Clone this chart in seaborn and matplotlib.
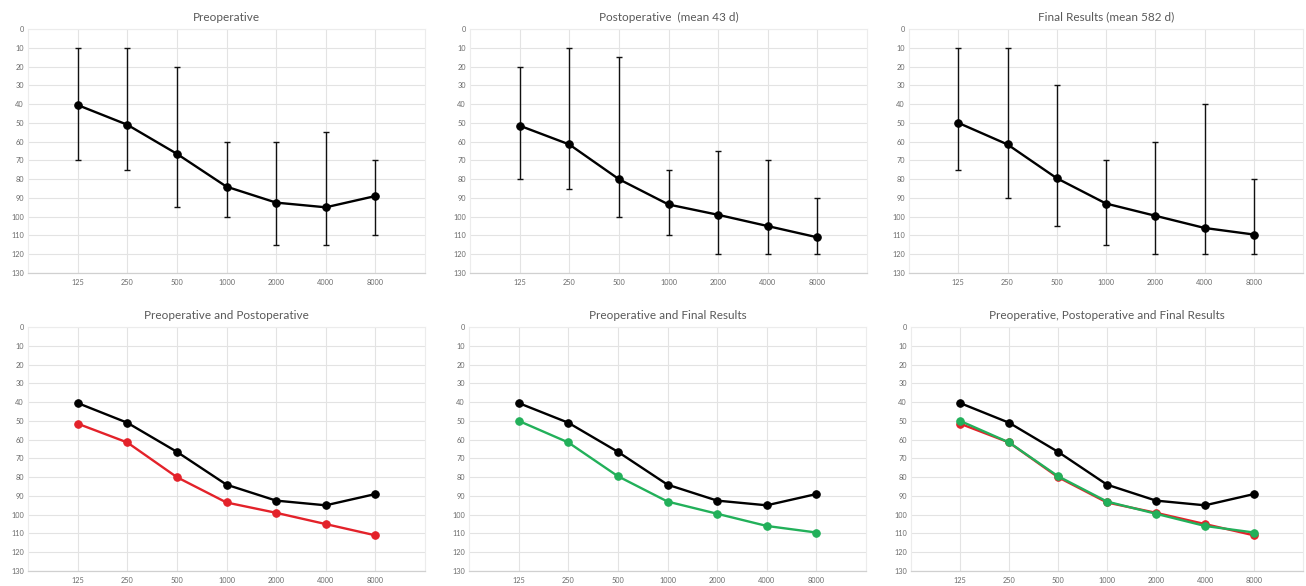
import numpy as np
import pandas as pd
import matplotlib
matplotlib.use("Agg")
import matplotlib.pyplot as plt
import seaborn as sns

# ---- data ----
freqs = ["125", "250", "500", "1000", "2000", "4000", "8000"]

pre_mean = [40.5, 51, 66.5, 84, 92.5, 95, 89]
pre_low = [10, 10, 20, 60, 60, 55, 70]
pre_high = [70, 75, 95, 100, 115, 115, 110]

post_mean = [51.5, 61.5, 80, 93.5, 99, 105, 111]
post_low = [20, 10, 15, 75, 65, 70, 90]
post_high = [80, 85, 100, 110, 120, 120, 120]

final_mean = [50, 61.5, 79.5, 93, 99.5, 106, 109.5]
final_low = [10, 10, 30, 70, 60, 40, 80]
final_high = [75, 90, 105, 115, 120, 120, 120]

titles = ["Preoperative", "Postoperative  (mean 43 d)", "Final Results (mean 582 d)",
          "Preoperative and Postoperative", "Preoperative and Final Results",
          "Preoperative, Postoperative and Final Results"]

C_PRE = "#000000"
C_POST = "#e3222a"
C_FINAL = "#22b05a"

sns.set_theme(style="white")
plt.rcParams["font.family"] = ["Lato", "DejaVu Sans"]

W, H = 1306, 586
fig = plt.figure(figsize=(W / 100, H / 100), dpi=100)
fig.patch.set_facecolor("white")

def ax_at(l, t, r, b):
    return fig.add_axes([l / W, 1 - b / H, (r - l) / W, (b - t) / H])

boxes = [
    (28, 29, 425, 273), (470, 29, 867, 273), (909, 29, 1303, 273),
    (28, 327, 425, 571), (469, 327, 866, 571), (911, 327, 1303, 571),
]
axes = [ax_at(*b) for b in boxes]

xpos = np.arange(len(freqs))

def style(ax, title):
    ax.set_xlim(-1, len(freqs))
    ax.set_ylim(130, 0)
    ax.set_yticks(np.arange(0, 131, 10))
    ax.set_xticks(xpos)
    ax.set_xticklabels(freqs)
    ax.tick_params(axis="both", length=0, labelsize=5.3, colors="#6b6b6b")
    ax.tick_params(axis="x", pad=4.5)
    ax.tick_params(axis="y", pad=3)
    ax.grid(True, color="#e3e3e3", linewidth=0.8)
    ax.set_axisbelow(True)
    for s in ["top", "left", "right"]:
        ax.spines[s].set_color("#ececec")
        ax.spines[s].set_linewidth(0.8)
    ax.spines["bottom"].set_color("#d0d0d0")
    ax.spines["bottom"].set_linewidth(0.9)
    ax.set_title(title, fontsize=8.5, color="#595959", pad=6)
    ax.set_xlabel("")
    ax.set_ylabel("")

def series(ax, mean, color, low=None, high=None, ms=5.4, lw=1.7, z=3):
    if low is not None:
        m = np.array(mean, dtype=float)
        yerr = np.vstack([m - np.array(low), np.array(high) - m])
        ax.errorbar(xpos, m, yerr=yerr, fmt="none", ecolor="#111111",
                    elinewidth=1.0, capsize=2, capthick=1.0, zorder=z - 1)
    df = pd.DataFrame({"x": xpos, "y": mean})
    sns.lineplot(data=df, x="x", y="y", ax=ax, color=color, linewidth=lw,
                 marker="o", markersize=ms, markeredgecolor=color,
                 markerfacecolor=color, zorder=z)

series(axes[0], pre_mean, C_PRE, pre_low, pre_high)
series(axes[1], post_mean, C_PRE, post_low, post_high)
series(axes[2], final_mean, C_PRE, final_low, final_high)

series(axes[3], pre_mean, C_PRE)
series(axes[3], post_mean, C_POST)

series(axes[4], pre_mean, C_PRE)
series(axes[4], final_mean, C_FINAL)

series(axes[5], pre_mean, C_PRE)
series(axes[5], post_mean, C_POST)
series(axes[5], final_mean, C_FINAL, z=4)

for ax, t in zip(axes, titles):
    style(ax, t)

fig.savefig("out.png", dpi=100, facecolor="white")
